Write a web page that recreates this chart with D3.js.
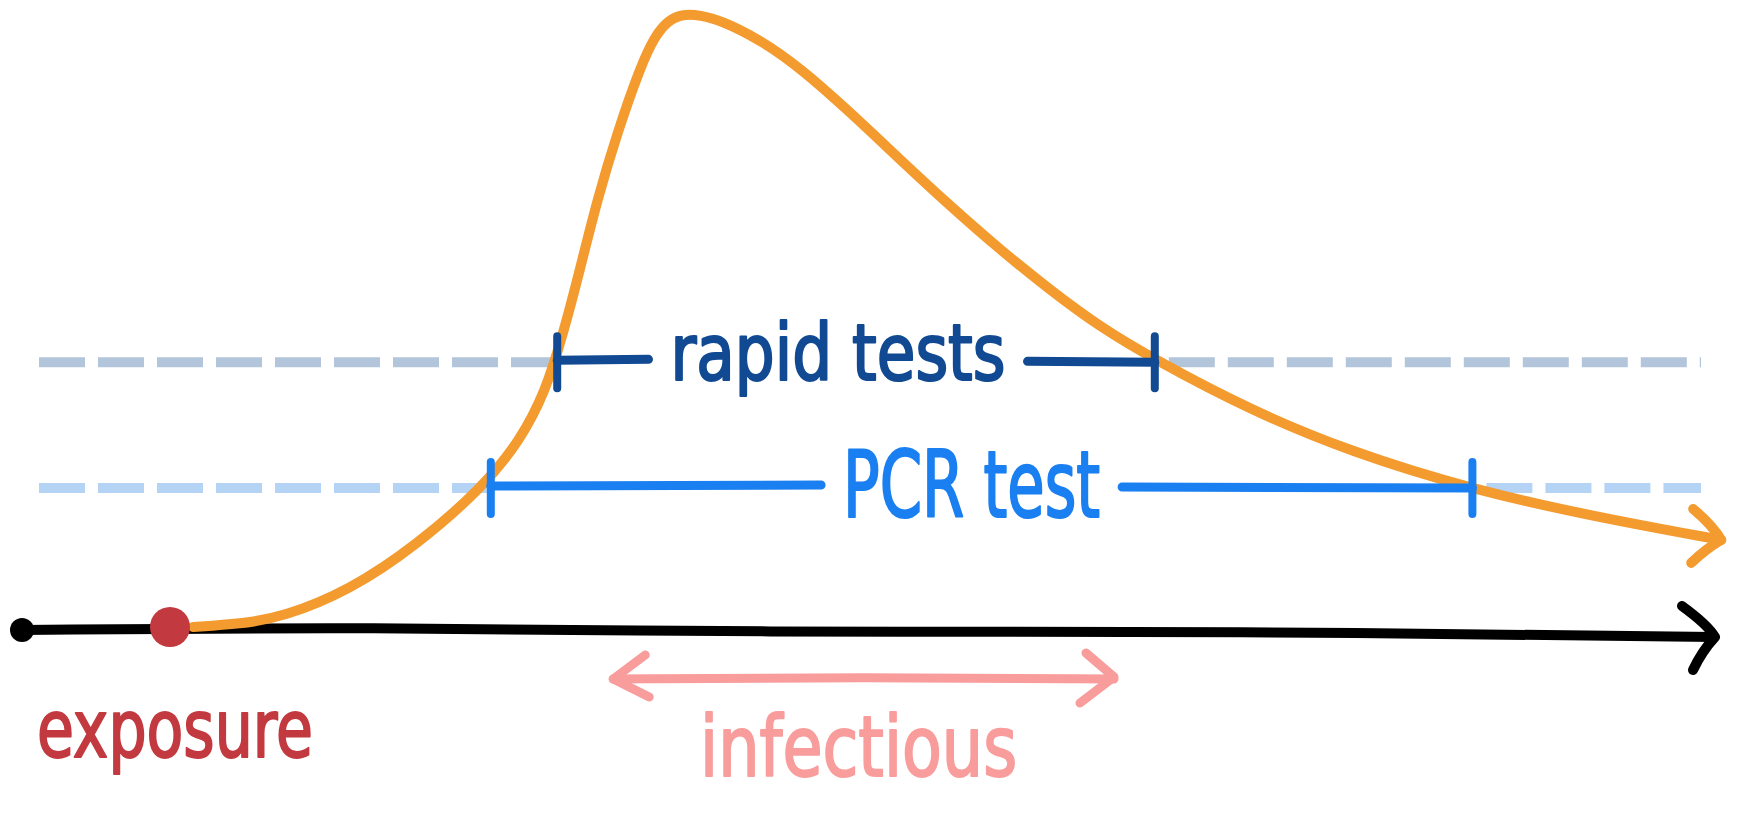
<!DOCTYPE html>
<html>
<head>
<meta charset="utf-8">
<script src="https://cdnjs.cloudflare.com/ajax/libs/d3/7.8.5/d3.min.js"></script>
<style>
  html, body { margin: 0; padding: 0; background: #ffffff; }
  svg { display: block; }
</style>
</head>
<body>
<div id="chart"></div>
<script>
///////////////////////////////////////////////
// Data ///////////////////////////////////////
///////////////////////////////////////////////

// Viral load curve (days since exposure, relative load 0-100)
var days = [0.29, 0.88, 1.41, 2.25, 3.09, 3.91, 4.38, 4.69, 4.91, 5.13, 5.34, 5.59, 5.88, 6.06, 6.23, 6.41, 6.63, 6.88, 7.38, 7.88, 8.5, 9.13, 9.75, 10.38, 11.0, 11.63, 12.31, 13.5, 14.75, 16.28, 17.88, 19.39];
var load = [0, 0.5, 1.6, 6.0, 13.4, 22.8, 30.5, 38.3, 47.6, 58.6, 69.7, 80.6, 91.4, 96.4, 99.0, 100, 99.8, 99.0, 95.8, 91.2, 84.0, 76.2, 68.7, 61.5, 55.0, 48.9, 43.6, 35.4, 28.6, 22.4, 17.8, 14.2];

// Detection windows
var testNames = ["rapid tests", "PCR test"];
var testLevels = [43.5, 23];
var testStart = [4.84, 4.01];
var testEnd = [12.31, 16.28];

// Infectious window
var infectiousStart = 5.54;
var infectiousEnd = 11.8;

// Time axis extent
var axisStart = -1.85;
var axisEnd = 19.3;

///////////////////////////////////////////////
// Graph parameters ///////////////////////////
///////////////////////////////////////////////

var width = 1738;
var height = 813;

var color = {
  curve: "#f39b2f",
  axis: "#000000",
  exposure: "#c23a40",
  infectious: "#f89d9c",
  test: ["#114a92", "#1a7ff0"],
  dash: ["#b3c5da", "#b5d4f5"]
};

var font = "'DejaVu Sans Condensed', 'Liberation Sans Narrow', 'DejaVu Sans', sans-serif";

var svg = d3.select("#chart").append("svg")
    .attr("width", width)
    .attr("height", height);

///////////////////////////////////////////////
// Scales /////////////////////////////////////
///////////////////////////////////////////////

var x = d3.scaleLinear()
    .domain([0, 19])
    .range([170, 170 + 19 * 80]);

var y = d3.scaleLinear()
    .domain([0, 100])
    .range([627, 14]);

///////////////////////////////////////////////
// Threshold lines ////////////////////////////
///////////////////////////////////////////////

var textSize = [78, 92];
var textWidth = [335, 257];
var textShift = [-18, -10];
var baseShift = [20, 31];

testNames.forEach(function(name, i) {
  var ty = y(testLevels[i]);
  var x0 = x(testStart[i]),
      x1 = x(testEnd[i]);

  // faint dashed guide outside the window
  svg.append("line")
      .attr("x1", x(axisStart) + 17).attr("x2", x0 - 4)
      .attr("y1", ty + 2).attr("y2", ty + 2)
      .attr("stroke", color.dash[i])
      .attr("stroke-width", 10)
      .attr("stroke-dasharray", "46,13");

  svg.append("line")
      .attr("x1", x1 + 14).attr("x2", x(axisEnd) - 13)
      .attr("y1", ty + 2).attr("y2", ty + 2)
      .attr("stroke", color.dash[i])
      .attr("stroke-width", 10)
      .attr("stroke-dasharray", "46,13");
});

///////////////////////////////////////////////
// Axis ///////////////////////////////////////
///////////////////////////////////////////////

var ax0 = x(axisStart),
    ax1 = x(axisEnd),
    ay = y(0);

svg.append("path")
    .attr("d", d3.line().curve(d3.curveBasis)([
        [ax0, ay + 3], [x(2), ay], [x(6), ay + 4], [x(9), ay + 5], [x(13), ay + 4], [ax1, ay + 10]
    ]))
    .attr("fill", "none")
    .attr("stroke", color.axis)
    .attr("stroke-width", 10)
    .attr("stroke-linecap", "round");

svg.append("path")
    .attr("d", "M" + (ax1 - 32) + "," + (ay - 21) + " Q" + (ax1 - 6) + "," + (ay - 2) + " " + (ax1 + 1) + "," + (ay + 10) +
               " Q" + (ax1 - 12) + "," + (ay + 24) + " " + (ax1 - 21) + "," + (ay + 43))
    .attr("fill", "none")
    .attr("stroke", color.axis)
    .attr("stroke-width", 10)
    .attr("stroke-linecap", "round")
    .attr("stroke-linejoin", "round");

svg.append("circle")
    .attr("cx", ax0)
    .attr("cy", ay + 3)
    .attr("r", 12)
    .attr("fill", color.axis);

///////////////////////////////////////////////
// Curve //////////////////////////////////////
///////////////////////////////////////////////

var data = days.map(function(d, i) { return { day: d, load: load[i] }; });

var curveLine = d3.line()
    .x(function(d) { return x(d.day); })
    .y(function(d) { return y(d.load); })
    .curve(d3.curveBasis);

var curvePath = svg.append("path")
    .datum(data)
    .attr("fill", "none")
    .attr("stroke", color.curve)
    .attr("stroke-width", 10)
    .attr("stroke-linecap", "round")
    .attr("stroke-linejoin", "round")
    .attr("d", curveLine);

// arrow head at the end of the curve
var last = data[data.length - 1];
var tipX = x(last.day),
    tipY = y(last.load);

svg.append("path")
    .attr("d", "M" + (tipX - 28) + "," + (tipY - 31) +
               " Q" + (tipX - 8) + "," + (tipY - 14) + " " + tipX + "," + tipY +
               " Q" + (tipX - 14) + "," + (tipY + 8) + " " + (tipX - 30) + "," + (tipY + 23))
    .attr("fill", "none")
    .attr("stroke", color.curve)
    .attr("stroke-width", 10)
    .attr("stroke-linecap", "round")
    .attr("stroke-linejoin", "round");

///////////////////////////////////////////////
// Test windows ///////////////////////////////
///////////////////////////////////////////////

testNames.forEach(function(name, i) {
  var ty = y(testLevels[i]);
  var x0 = x(testStart[i]),
      x1 = x(testEnd[i]);
  var cx = (x0 + x1) / 2 + textShift[i];
  var gap = textWidth[i] / 2 + 22;

  var g = svg.append("g").attr("class", "test");

  g.append("line")
      .attr("x1", x0).attr("x2", cx - gap)
      .attr("y1", ty).attr("y2", ty - 1)
      .attr("stroke", color.test[i])
      .attr("stroke-width", 9)
      .attr("stroke-linecap", "round");

  g.append("line")
      .attr("x1", cx + gap).attr("x2", x1)
      .attr("y1", ty + 1).attr("y2", ty + 2)
      .attr("stroke", color.test[i])
      .attr("stroke-width", 9)
      .attr("stroke-linecap", "round");

  [x0, x1].forEach(function(tx) {
    g.append("line")
        .attr("x1", tx).attr("x2", tx)
        .attr("y1", ty - 24).attr("y2", ty + 28)
        .attr("stroke", color.test[i])
        .attr("stroke-width", 8)
        .attr("stroke-linecap", "round");
  });

  g.append("text")
      .attr("x", cx)
      .attr("y", ty + baseShift[i])
      .attr("text-anchor", "middle")
      .attr("textLength", textWidth[i])
      .attr("lengthAdjust", "spacingAndGlyphs")
      .style("font-family", font)
      .style("font-size", textSize[i] + "px")
      .style("fill", color.test[i])
      .style("stroke", color.test[i])
      .style("stroke-width", 2.2)
      .style("stroke-linejoin", "round")
      .text(name);
});

///////////////////////////////////////////////
// Exposure ///////////////////////////////////
///////////////////////////////////////////////

svg.append("circle")
    .attr("cx", x(0))
    .attr("cy", y(0))
    .attr("r", 20)
    .attr("fill", color.exposure);

svg.append("text")
    .attr("x", x(0) + 5)
    .attr("y", y(0) + 130)
    .attr("text-anchor", "middle")
    .attr("textLength", 276)
    .attr("lengthAdjust", "spacingAndGlyphs")
    .style("font-family", font)
    .style("font-size", "80px")
    .style("fill", color.exposure)
    .style("stroke", color.exposure)
    .style("stroke-width", 2)
    .style("stroke-linejoin", "round")
    .text("exposure");

///////////////////////////////////////////////
// Infectious /////////////////////////////////
///////////////////////////////////////////////

var ix0 = x(infectiousStart),
    ix1 = x(infectiousEnd),
    iy = y(0) + 52;

svg.append("path")
    .attr("d", d3.line().curve(d3.curveBasis)([[ix0, iy], [(ix0 + ix1) / 2, iy - 2], [ix1, iy]]))
    .attr("fill", "none")
    .attr("stroke", color.infectious)
    .attr("stroke-width", 9)
    .attr("stroke-linecap", "round");

svg.append("path")
    .attr("d", "M" + (ix0 + 32) + "," + (iy - 24) + " L" + ix0 + "," + iy + " L" + (ix0 + 36) + "," + (iy + 18) +
               " M" + (ix1 - 28) + "," + (iy - 26) + " L" + ix1 + "," + (iy - 2) + " L" + (ix1 - 34) + "," + (iy + 24))
    .attr("fill", "none")
    .attr("stroke", color.infectious)
    .attr("stroke-width", 9)
    .attr("stroke-linecap", "round")
    .attr("stroke-linejoin", "round");

svg.append("text")
    .attr("x", (ix0 + ix1) / 2 - 5)
    .attr("y", iy + 97)
    .attr("text-anchor", "middle")
    .attr("textLength", 317)
    .attr("lengthAdjust", "spacingAndGlyphs")
    .style("font-family", font)
    .style("font-size", "84px")
    .style("fill", color.infectious)
    .style("stroke", color.infectious)
    .style("stroke-width", 2)
    .style("stroke-linejoin", "round")
    .text("infectious");
</script>
</body>
</html>
